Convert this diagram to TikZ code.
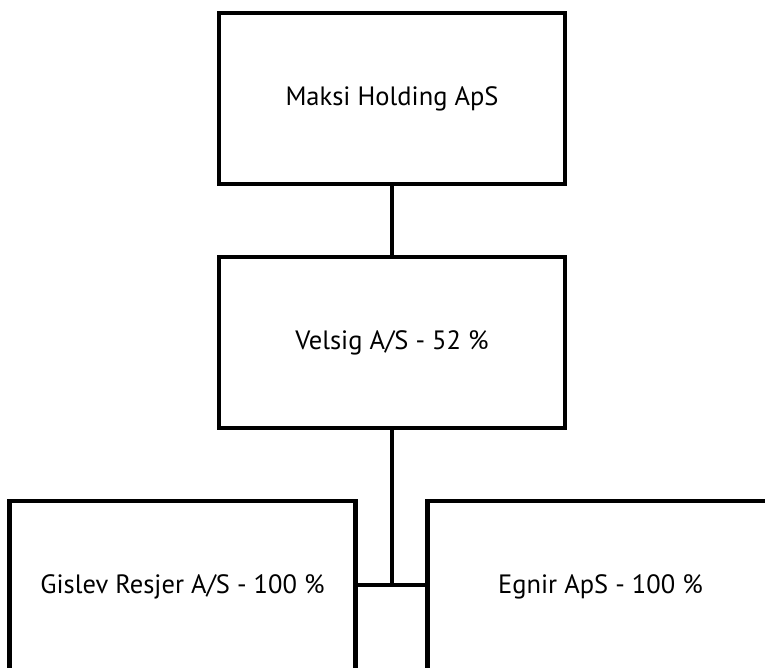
\documentclass[tikz,border=0pt]{standalone}
\usepackage{fontspec}
\setmainfont{PT Sans}
\begin{document}
\begin{tikzpicture}[x=1pt,y=-1pt,
  org/.style={draw=black,line width=4.5pt,fill=white,minimum width=346pt,minimum height=171pt,inner sep=0pt,font=\fontsize{26.5}{30}\selectfont},
  link/.style={draw=black,line width=4.5pt}]
\useasboundingbox (0,0) rectangle (765,668);
\begin{scope}
\clip (0,0) rectangle (765,668);
\node[org] (maksi) at (392,98.5) {Maksi Holding ApS};
\node[org] (velsig) at (392,342.5) {Velsig A/S - 52 \%};
\node[org] (gislev) at (182.5,586.5) {Gislev Resjer A/S - 100 \%};
\node[org] (egnir) at (600.5,586.5) {Egnir ApS - 100 \%};
\coordinate (j) at (392,585);
\draw[link] (maksi.south) -- (velsig.north);
\draw[link] (velsig.south) -- (j);
\draw[link] (gislev.east |- j) -- (egnir.west |- j);
\end{scope}
\end{tikzpicture}
\end{document}
